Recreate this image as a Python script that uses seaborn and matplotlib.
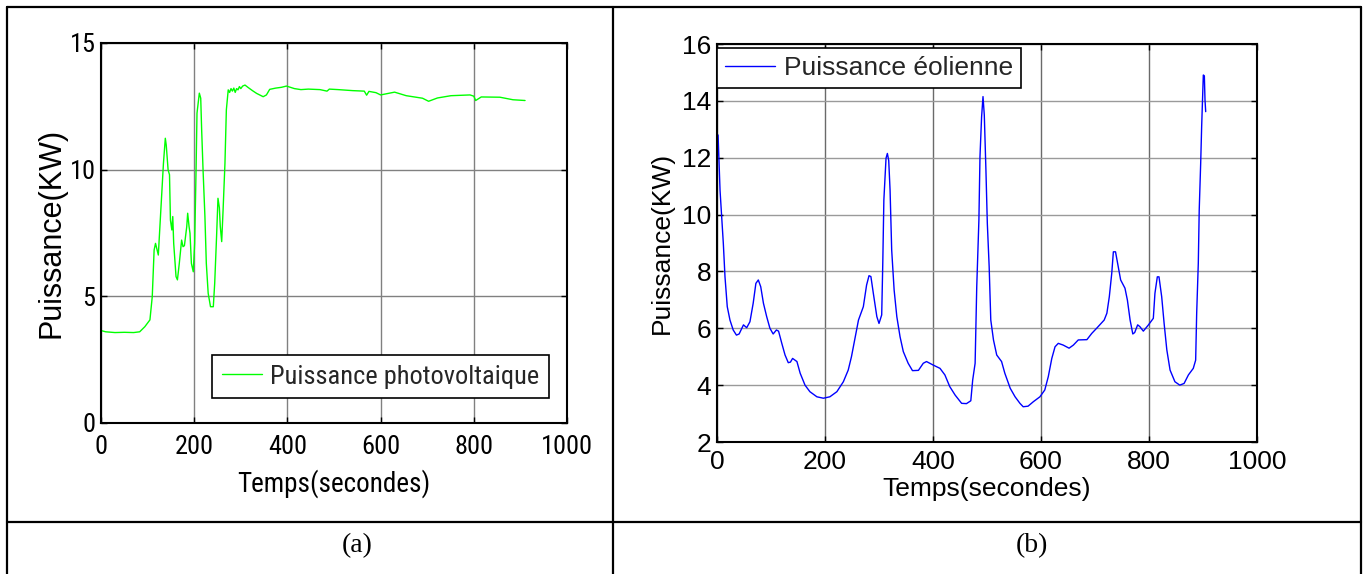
import matplotlib
matplotlib.use('Agg')
import matplotlib.pyplot as plt
import seaborn as sns
from matplotlib.lines import Line2D
from matplotlib import font_manager

# --- dados ---
temps_pv = [0, 10, 30, 50, 70, 83, 94, 105, 110, 114, 117, 123, 126, 130, 134, 138, 140, 144,
            147, 149, 152, 154, 156, 161, 164, 168, 173, 176, 179, 184, 186, 189, 191, 194, 198,
            201, 204, 206, 211, 214, 216, 219, 223, 226, 230, 235, 241, 244, 248, 251, 254, 256,
            259, 262, 266, 269, 273, 276, 279, 282, 285, 288, 291, 294, 297, 300, 304, 309, 316,
            325, 334, 348, 355, 362, 375, 387, 398, 415, 429, 445, 470, 485, 490, 509, 540, 565,
            570, 575, 590, 600, 630, 655, 669, 690, 703, 722, 751, 792, 800, 804, 816, 856, 884, 910]
puissance_pv = [3.65, 3.6, 3.57, 3.58, 3.57, 3.6, 3.8, 4.07, 4.99, 6.83, 7.09, 6.63, 7.62, 8.93,
                10.25, 11.24, 10.97, 9.99, 9.8, 8.01, 7.62, 8.15, 7.09, 5.78, 5.65, 6.3, 7.22, 6.96,
                7.0, 7.75, 8.28, 7.75, 7.49, 6.3, 5.97, 7.09, 9.99, 12.23, 13.02, 12.82, 11.57,
                9.99, 8.15, 6.3, 5.12, 4.59, 4.59, 5.52, 7.36, 8.87, 8.5, 7.75, 7.16, 8.41, 10.25,
                12.36, 13.15, 13.05, 13.2, 13.1, 13.22, 13.05, 13.2, 13.15, 13.28, 13.2, 13.3,
                13.34, 13.24, 13.12, 13.01, 12.88, 12.95, 13.17, 13.22, 13.25, 13.3, 13.2, 13.16,
                13.18, 13.16, 13.1, 13.18, 13.16, 13.12, 13.1, 12.94, 13.09, 13.04, 12.95, 13.06,
                12.92, 12.88, 12.82, 12.7, 12.83, 12.92, 12.95, 12.9, 12.73, 12.87, 12.86, 12.76,
                12.73]

temps_eol = [0, 2, 5.6, 8.6, 11.7, 14.8, 19, 24, 30, 36, 41, 49, 55, 61, 67, 72, 76.5, 81, 86,
             92, 98, 104, 110, 114, 120, 126, 132, 136, 140, 148, 154, 163, 172, 185, 197, 209,
             222, 234, 243, 249, 256, 262, 271, 277, 281.5, 285, 289.5, 296, 300, 305, 307, 309,
             313, 315.5, 318, 320.5, 323.5, 328, 333, 339, 345, 354, 362, 373, 382, 388, 400, 413,
             422, 431, 441, 453, 462, 470, 473.5, 478, 481, 485, 487, 490, 492.6, 495, 498, 500.6,
             504, 507, 512, 518, 527, 533, 543, 552, 561, 567, 576, 586, 598, 607, 613.5, 620, 626,
             632, 641, 652, 660, 669, 685, 694, 703, 717, 722, 726.5, 731, 734, 738, 743, 747.5,
             755.5, 760, 765, 770, 773.5, 779, 783, 789.5, 799, 808, 811, 815.4, 818.5, 823.5, 828,
             833, 839, 848, 857, 865, 873, 882, 886.4, 888.3, 891.3, 893, 895.7, 897.5, 900.6,
             902.5, 903.7, 905]
puissance_eol = [11.7, 12.8, 10.86, 9.92, 8.99, 7.81, 6.76, 6.29, 5.94, 5.76, 5.8, 6.12, 6.02, 6.23,
                 6.88, 7.58, 7.7, 7.46, 6.88, 6.41, 6.0, 5.8, 5.94, 5.9, 5.47, 5.06, 4.79, 4.81, 4.94,
                 4.83, 4.42, 4.0, 3.77, 3.59, 3.54, 3.59, 3.77, 4.12, 4.53, 5.0, 5.7, 6.29, 6.76,
                 7.52, 7.85, 7.82, 7.23, 6.41, 6.17, 6.47, 8.29, 10.51, 11.98, 12.15, 11.9, 10.86,
                 8.75, 7.35, 6.41, 5.7, 5.18, 4.77, 4.51, 4.52, 4.77, 4.83, 4.71, 4.59, 4.36, 3.95,
                 3.65, 3.36, 3.35, 3.45, 4.18, 4.77, 7.46, 9.81, 12.04, 13.44, 14.15, 13.5, 11.57,
                 9.69, 8.17, 6.29, 5.59, 5.06, 4.83, 4.42, 3.89, 3.59, 3.36, 3.24, 3.26, 3.42, 3.59,
                 3.83, 4.3, 4.94, 5.35, 5.47, 5.41, 5.3, 5.41, 5.59, 5.6, 5.82, 6.0, 6.29, 6.53,
                 7.11, 7.93, 8.69, 8.69, 8.17, 7.7, 7.41, 6.99, 6.29, 5.8, 5.85, 6.12, 6.06, 5.9,
                 6.12, 6.35, 7.23, 7.81, 7.81, 7.11, 6.17, 5.24, 4.53, 4.12, 4.0, 4.06, 4.36, 4.59,
                 4.88, 6.53, 8.29, 10.16, 11.8, 13.09, 14.91, 14.88, 14.03, 13.62]

ticks_x = [0, 200, 400, 600, 800, 1000]
ticks_y_pv = [0, 5, 10, 15]
ticks_y_eol = [2, 4, 6, 8, 10, 12, 14, 16]

# --- figura ---
sns.set_theme(style='white')
plt.rcParams['font.family'] = ['Liberation Sans', 'DejaVu Sans']

# fonte estreita para o painel (a) (imagem original esticada na vertical)
nomes = {f.name for f in font_manager.fontManager.ttflist}
estreita = None
for nome in ['Roboto Condensed', 'Liberation Sans Narrow']:
    if nome in nomes:
        estreita = nome
        break
if estreita:
    fonte_a, tam_a, tam_xlab_a = [estreita, 'Liberation Sans'], 19, 19.5
else:
    fonte_a, tam_a, tam_xlab_a = ['Liberation Sans'], 17, 17
fonte_b = ['Liberation Sans', 'DejaVu Sans']
tam_b = 19

W, H = 1367, 574
fig = plt.figure(figsize=(W / 100, H / 100), dpi=100)
fig.patch.set_facecolor('white')


def eixo(x0, y0, x1, y1):
    return fig.add_axes([x0 / W, 1 - y1 / H, (x1 - x0) / W, (y1 - y0) / H])


ax1 = eixo(101, 43, 567, 423)
ax2 = eixo(717, 44, 1257, 442)

sns.lineplot(x=temps_pv, y=puissance_pv, ax=ax1, color='#00ff00', lw=1.0,
             estimator=None, sort=False, label='Puissance photovoltaique')
sns.lineplot(x=temps_eol, y=puissance_eol, ax=ax2, color='#0000ff', lw=1.0,
             estimator=None, sort=False, label='Puissance éolienne')

config = [
    (ax1, ticks_y_pv, (0, 15), fonte_a, tam_a, '#808080', '#808080', 9),
    (ax2, ticks_y_eol, (2, 16), fonte_b, tam_b, '#9a9a9a', '#6a6a6a', 6),
]
for ax, ty, ylim, fam, tam, cor_h, cor_v, xpad in config:
    ax.set_xlim(0, 1000)
    ax.set_ylim(*ylim)
    ax.set_xticks(ticks_x)
    ax.set_yticks(ty)
    ax.set_xticklabels([str(v) for v in ticks_x])
    ax.set_yticklabels([str(v) for v in ty])
    for lbl in ax.get_xticklabels() + ax.get_yticklabels():
        lbl.set_fontfamily(fam)
        lbl.set_fontsize(tam)
        lbl.set_color('black')
    ax.tick_params(direction='in', length=4, width=1, top=True, right=True,
                   bottom=True, left=True, colors='black')
    ax.tick_params(axis='x', pad=xpad)
    ax.tick_params(axis='y', pad=4)
    ax.yaxis.grid(True, color=cor_h, lw=1.0)
    ax.xaxis.grid(True, color=cor_v, lw=1.0)
    ax.set_axisbelow(True)
    for sp in ax.spines.values():
        sp.set_visible(True)
        sp.set_color('black')
        sp.set_linewidth(1.5)

ax1.set_xlabel('Temps(secondes)', family=fonte_a, fontsize=tam_xlab_a, color='black', labelpad=7)
ax1.set_ylabel('Puissance(KW)', family=fonte_b, fontsize=22, color='black', labelpad=2)
ax2.set_xlabel('Temps(secondes)', family=fonte_b, fontsize=tam_b, color='black', labelpad=2)
ax2.set_ylabel('Puissance(KW)', family=fonte_b, fontsize=tam_b, color='black', labelpad=6)

leg1 = ax1.legend(loc='lower right', bbox_to_anchor=(0.961, 0.066), borderaxespad=0,
                  prop=dict(family=fonte_a, size=tam_a), handlelength=1.55, handletextpad=0.3,
                  fancybox=False, framealpha=1, edgecolor='black', borderpad=0.35)
leg2 = ax2.legend(loc='upper left', bbox_to_anchor=(0.0, 0.99), borderaxespad=0,
                  prop=dict(family=fonte_b, size=tam_b), handlelength=1.9, handletextpad=0.35,
                  fancybox=False, framealpha=1, edgecolor='black', borderpad=0.3)
for lg in (leg1, leg2):
    lg.get_frame().set_linewidth(1.2)

# --- bordas da tabela ---
def linha(x0, y0, x1, y1):
    fig.add_artist(Line2D([x0 / W, x1 / W], [1 - y0 / H, 1 - y1 / H],
                          transform=fig.transFigure, color='black', lw=1.6))


linha(7, 7, 1361, 7)
linha(7, 7, 7, 574)
linha(1361, 7, 1361, 574)
linha(613, 7, 613, 574)
linha(7, 522, 1361, 522)

fig.text(357 / W, 1 - 546 / H, '(a)', ha='center', va='center', fontsize=20,
         family=['Liberation Serif', 'DejaVu Serif'], color='black')
fig.text(1032 / W, 1 - 546 / H, '(b)', ha='center', va='center', fontsize=20,
         family=['Liberation Serif', 'DejaVu Serif'], color='black')

fig.savefig('out.png', dpi=100, facecolor='white')
